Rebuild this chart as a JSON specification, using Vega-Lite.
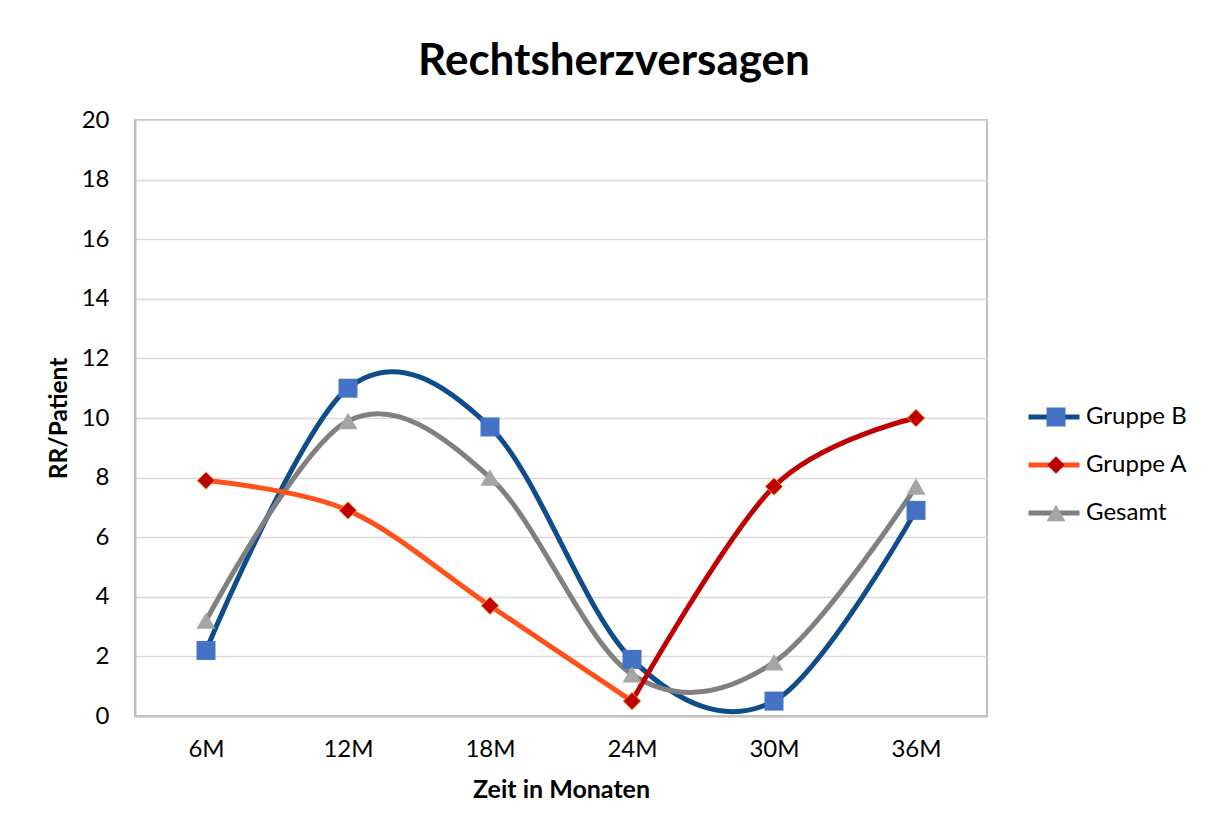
{
  "$schema": "https://vega.github.io/schema/vega-lite/v6.json",
  "width": 852,
  "height": 596,
  "autosize": {"type": "none"},
  "padding": {"left": 135, "top": 120, "right": 228, "bottom": 116},
  "background": "white",
  "title": {"text": "Rechtsherzversagen", "font": "Lato", "fontSize": 44, "fontWeight": "bold", "color": "#000000", "anchor": "middle", "dx": 53, "offset": 24},
  "config": {
    "font": "Lato",
    "view": {"stroke": "#BFBFBF", "strokeWidth": 2}
  },
  "datasets": {
    "lines": [
      {"t": "6M", "seg": "Gruppe B", "v": 2.2},
      {"t": "12M", "seg": "Gruppe B", "v": 11.0},
      {"t": "18M", "seg": "Gruppe B", "v": 9.7},
      {"t": "24M", "seg": "Gruppe B", "v": 1.9},
      {"t": "30M", "seg": "Gruppe B", "v": 0.5},
      {"t": "36M", "seg": "Gruppe B", "v": 6.9},
      {"t": "6M", "seg": "Gesamt", "v": 3.2},
      {"t": "12M", "seg": "Gesamt", "v": 9.9},
      {"t": "18M", "seg": "Gesamt", "v": 8.0},
      {"t": "24M", "seg": "Gesamt", "v": 1.4},
      {"t": "30M", "seg": "Gesamt", "v": 1.8},
      {"t": "36M", "seg": "Gesamt", "v": 7.7},
      {"t": "6M", "seg": "Gruppe A", "v": 7.9},
      {"t": "12M", "seg": "Gruppe A", "v": 6.9},
      {"t": "18M", "seg": "Gruppe A", "v": 3.7},
      {"t": "24M", "seg": "Gruppe A", "v": 0.5},
      {"t": "24M", "seg": "Gruppe A2", "v": 0.5},
      {"t": "30M", "seg": "Gruppe A2", "v": 7.7},
      {"t": "36M", "seg": "Gruppe A2", "v": 10.0}
    ],
    "points": [
      {"t": "6M", "series": "Gruppe B", "v": 2.2},
      {"t": "12M", "series": "Gruppe B", "v": 11.0},
      {"t": "18M", "series": "Gruppe B", "v": 9.7},
      {"t": "24M", "series": "Gruppe B", "v": 1.9},
      {"t": "30M", "series": "Gruppe B", "v": 0.5},
      {"t": "36M", "series": "Gruppe B", "v": 6.9},
      {"t": "6M", "series": "Gesamt", "v": 3.2},
      {"t": "12M", "series": "Gesamt", "v": 9.9},
      {"t": "18M", "series": "Gesamt", "v": 8.0},
      {"t": "24M", "series": "Gesamt", "v": 1.4},
      {"t": "30M", "series": "Gesamt", "v": 1.8},
      {"t": "36M", "series": "Gesamt", "v": 7.7},
      {"t": "6M", "series": "Gruppe A", "v": 7.9},
      {"t": "12M", "series": "Gruppe A", "v": 6.9},
      {"t": "18M", "series": "Gruppe A", "v": 3.7},
      {"t": "24M", "series": "Gruppe A", "v": 0.5},
      {"t": "30M", "series": "Gruppe A", "v": 7.7},
      {"t": "36M", "series": "Gruppe A", "v": 10.0}
    ]
  },
  "encoding": {
    "x": {
      "field": "t", "type": "ordinal",
      "scale": {"type": "point", "padding": 0.5, "domain": ["6M", "12M", "18M", "24M", "30M", "36M"]},
      "axis": {
        "title": "Zeit in Monaten", "titleFont": "Lato", "titleFontSize": 25, "titleFontWeight": "bold", "titleColor": "#000000", "titlePadding": 16,
        "labelFont": "Lato", "labelFontSize": 24, "labelColor": "#000000", "labelAngle": 0, "labelPadding": 21,
        "ticks": false, "grid": false, "domain": true, "domainColor": "#BFBFBF", "domainWidth": 2
      }
    },
    "y": {
      "field": "v", "type": "quantitative",
      "scale": {"domain": [0, 20], "nice": false, "zero": true},
      "axis": {
        "title": "RR/Patient", "titleFont": "Lato", "titleFontSize": 24.5, "titleFontWeight": "bold", "titleColor": "#000000", "titlePadding": 10,
        "labelFont": "Lato", "labelFontSize": 24, "labelColor": "#000000", "labelPadding": 26,
        "values": [0, 2, 4, 6, 8, 10, 12, 14, 16, 18, 20],
        "ticks": false, "grid": true, "gridColor": "#D9D9D9", "gridWidth": 1.5,
        "domain": true, "domainColor": "#BFBFBF", "domainWidth": 2
      }
    }
  },
  "layer": [
    {
      "data": {"name": "lines"},
      "mark": {"type": "line", "interpolate": "cardinal", "strokeWidth": 5, "strokeCap": "round"},
      "encoding": {
        "stroke": {
          "field": "seg", "type": "nominal",
          "scale": {"domain": ["Gruppe B", "Gruppe A", "Gesamt", "Gruppe A2"], "range": ["#0F4C8A", "#FF5119", "#808080", "#C00000"]},
          "legend": {
            "orient": "none", "legendX": 891, "legendY": 285, "title": null,
            "values": ["Gruppe B", "Gruppe A", "Gesamt"],
            "symbolType": "stroke", "symbolSize": 2601, "symbolStrokeWidth": 5,
            "labelOpacity": 0, "labelFontSize": 24, "clipHeight": 24, "rowPadding": 24, "padding": 0
          }
        }
      }
    },
    {
      "data": {"name": "points"},
      "mark": {"type": "point", "filled": true, "opacity": 1, "strokeWidth": 1},
      "encoding": {
        "fill": {
          "field": "series", "type": "nominal",
          "scale": {"domain": ["Gruppe B", "Gruppe A", "Gesamt"], "range": ["#4472C4", "#C00000", "#A5A5A5"]},
          "legend": {
            "orient": "none", "legendX": 909, "legendY": 285, "title": null,
            "labelFont": "Lato", "labelFontSize": 24, "labelColor": "#000000", "labelOffset": 18,
            "clipHeight": 24, "rowPadding": 24, "padding": 0, "symbolStrokeWidth": 0
          }
        },
        "shape": {
          "field": "series", "type": "nominal",
          "scale": {"domain": ["Gruppe B", "Gruppe A", "Gesamt"], "range": ["square", "diamond", "triangle-up"]}
        },
        "size": {
          "field": "series", "type": "nominal",
          "scale": {"type": "ordinal", "domain": ["Gruppe B", "Gruppe A", "Gesamt"], "range": [361, 300, 361]}
        },
        "stroke": {
          "condition": {"test": "datum.series === 'Gruppe A'", "value": "#F08A24"},
          "value": null
        }
      }
    }
  ]
}
